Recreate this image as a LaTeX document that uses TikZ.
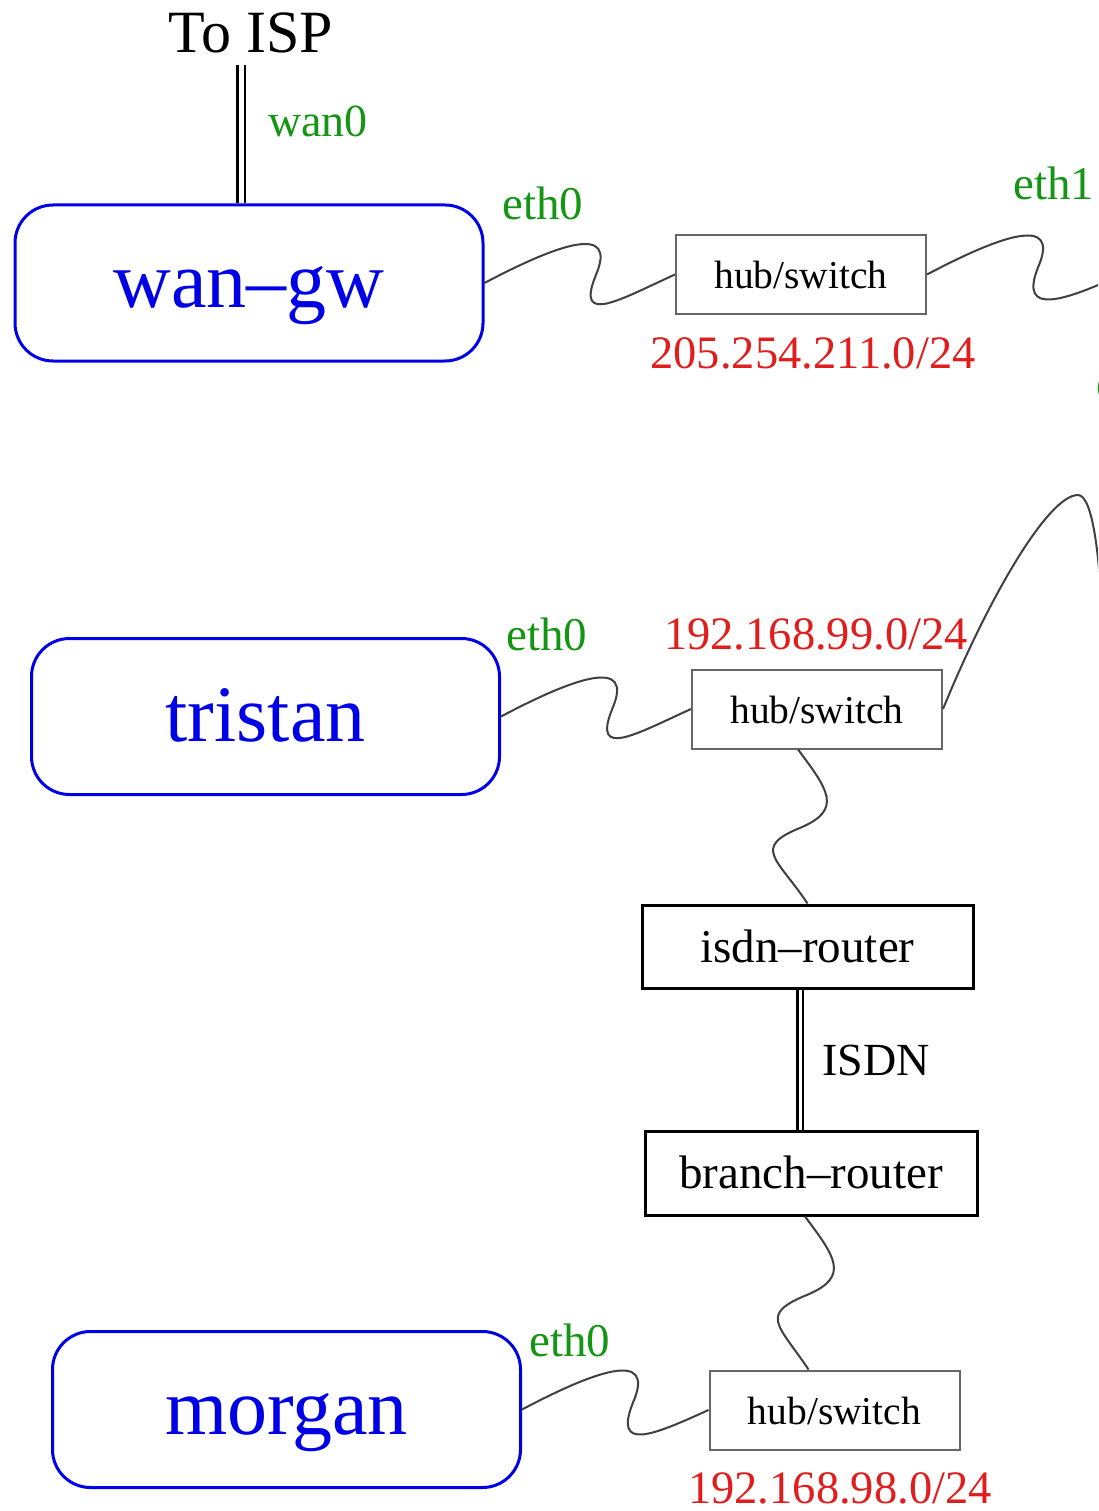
\documentclass[tikz,border=0pt]{standalone}
\usepackage{fontspec}
\setmainfont{Liberation Serif}
\usetikzlibrary{calc}
\definecolor{netblue}{RGB}{0,0,230}
\definecolor{netgreen}{RGB}{20,150,20}
\definecolor{netred}{RGB}{225,30,30}
\tikzset{
 host/.style={draw=netblue, text=netblue, line width=3pt, rounded corners=38pt, minimum width=468pt, minimum height=156pt, inner sep=0pt, font=\fontsize{80}{90}\selectfont, text height=58pt, text depth=8pt},
 hub/.style={draw=black!60, line width=2pt, minimum width=250pt, minimum height=79pt, inner sep=0pt, font=\fontsize{39.5}{45}\selectfont, text height=29pt, text depth=0pt},
 router/.style={draw=black, line width=3pt, minimum width=331pt, minimum height=83pt, inner sep=0pt, font=\fontsize{47}{55}\selectfont, text height=31pt, text depth=0pt},
 iface/.style={text=netgreen, font=\fontsize{47}{55}\selectfont, inner sep=0pt, anchor=base west},
 subnet/.style={text=netred, font=\fontsize{46.5}{55}\selectfont, inner sep=0pt, anchor=base},
 wire/.style={line width=2pt, draw=black!75},
 dblline/.style={double, line width=2.5pt, double distance=5pt},
 isdnline/.style={double, line width=2.8pt, double distance=3pt},
}
\newcommand\hsquig[2]{\draw[wire] (#1) .. controls +(70,-37) and +(24,-55) .. ($(#1)+(111,-7)$) .. controls +(-20,50) and +(-55,25) .. (#2);}
\newcommand\vsquig[2]{\draw[wire] (#1) .. controls +(30,40) and +(42,-18) .. ($(#1)+(3,78)$) .. controls +(-50,20) and +(-30,-45) .. (#2);}
\begin{document}
\begin{tikzpicture}[x=1pt,y=-1pt]
\useasboundingbox (0,0) rectangle (1098,1511);
\fill[white] (0,0) rectangle (1098,1511);
\clip (0,0) rectangle (1098,1511);

% hosts
\node[host] (wangw) at (249,283) {wan--gw};
\node[host] (tristan) at (265.5,716.5) {tristan};
\node[host] (morgan) at (286.5,1409.5) {morgan};

% hubs and routers
\node[hub] (hub1) at (801,274.5) {hub/switch};
\node[hub] (hub2) at (817,709) {hub/switch};
\node[hub] (hub3) at (834.5,1410) {hub/switch};
\node[router] (isdn) at (807.5,946.5) {isdn--router};
\node[router, minimum width=332pt, minimum height=84pt] (branch) at (811,1173) {branch--router};

% ISP
\node[anchor=base, font=\fontsize{60}{70}\selectfont, inner sep=0pt] (isp) at (251,53) {To ISP};
\coordinate (ispend) at (241,65);
\draw[dblline] (ispend) -- (ispend |- wangw.north);
\node[iface, font=\fontsize{46}{55}\selectfont] (wan0) at (268,137) {wan0};

% labels
\node[iface] (e1) at (502,220) {eth0};
\node[iface] (e2) at (506,650) {eth0};
\node[iface] (e3) at (529,1356) {eth0};
\node[iface] (e4) at (1013,200) {eth1};
\node[iface] (e5) at (1096,399) {eth0};
\node[subnet] (net1) at (813,368) {205.254.211.0/24};
\node[subnet] (net2) at (816,649) {192.168.99.0/24};
\node[subnet] (net3) at (840,1503) {192.168.98.0/24};

% wires
\hsquig{wangw.east}{hub1.west}
\hsquig{tristan.east}{hub2.west}
\hsquig{morgan.east}{hub3.west}
\coordinate (off1) at (1121,275);
\hsquig{hub1.east}{off1}
\coordinate (off2) at (1102,620);
\draw[wire] (hub2.east) .. controls +(45,-110) and +(-30,0) .. (1078,495) .. controls +(15,0) and +(-2,-60) .. (off2);

\coordinate (h2s) at ([xshift=-19pt]hub2.south);
\vsquig{h2s}{isdn.north}
\coordinate (brs) at ([xshift=-6pt]branch.south);
\coordinate (h3n) at ([xshift=-26pt]hub3.north);
\vsquig{brs}{h3n}

% ISDN
\coordinate (isdns) at ([xshift=-7.5pt]isdn.south);
\draw[isdnline] (isdns) -- (isdns |- branch.north);
\node[anchor=base west, font=\fontsize{46}{55}\selectfont, inner sep=0pt] (isdnlbl) at (822,1075) {ISDN};
\end{tikzpicture}
\end{document}
